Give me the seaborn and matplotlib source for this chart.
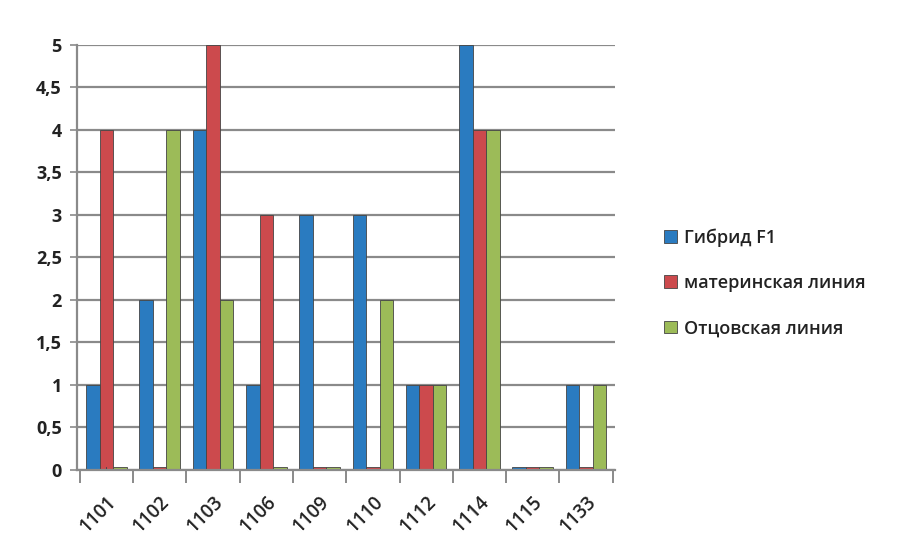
import matplotlib
matplotlib.use("Agg")
import matplotlib.pyplot as plt
import seaborn as sns
import pandas as pd
import numpy as np

categories = ["1101", "1102", "1103", "1106", "1109", "1110", "1112", "1114", "1115", "1133"]
hybrid = [1, 2, 4, 1, 3, 3, 1, 5, 0, 1]
maternal = [4, 0, 5, 3, 0, 0, 1, 4, 0, 0]
paternal = [0, 4, 2, 0, 0, 2, 1, 4, 0, 1]
series_names = ["Гибрид F1", "материнская линия", "Отцовская линия"]
yticks = [0, 0.5, 1, 1.5, 2, 2.5, 3, 3.5, 4, 4.5, 5]
ytick_labels = ["0", "0,5", "1", "1,5", "2", "2,5", "3", "3,5", "4", "4,5", "5"]
colors = ["#2A7BC0", "#CC4A4D", "#9CBB58"]

rows = []
for name, vals in zip(series_names, [hybrid, maternal, paternal]):
    for c, v in zip(categories, vals):
        rows.append({"cat": c, "series": name, "value": v})
df = pd.DataFrame(rows)

sns.set_style("white")
plt.rcParams['font.family'] = ['Open Sans', 'DejaVu Sans']

fig = plt.figure(figsize=(8.97, 5.54), dpi=100)
ax = fig.add_axes([0.086, 0.152, 0.600, 0.767])

ax.yaxis.grid(True, color="#8a8a8a", linewidth=1.6)
ax.set_axisbelow(True)

sns.barplot(data=df, x="cat", y="value", hue="series", palette=colors,
            hue_order=series_names, order=categories, ax=ax,
            width=0.76, saturation=1, edgecolor="#444444", linewidth=0.6,
            legend=True)

# small stubs for zero-valued bars (like the 3D floor slabs)
for patch in ax.patches:
    if patch.get_height() == 0:
        patch.set_height(0.03)

ax.set_ylim(0, 5)
ax.set_xlim(-0.55, 9.55)
ax.set_yticks(yticks)
ax.set_yticklabels(ytick_labels, fontsize=13, fontweight="bold", color="#222222")
ax.set_xticks(range(len(categories)))
ax.set_xticklabels(categories, rotation=45, ha="right", rotation_mode="anchor",
                   fontsize=13.5, fontweight="semibold", color="#222222")
ax.set_xticks(np.arange(-0.5, len(categories), 1.0), minor=True)
ax.set_xlabel("")
ax.set_ylabel("")
for s in ["top", "right"]:
    ax.spines[s].set_visible(False)
ax.spines["left"].set_color("#8a8a8a")
ax.spines["left"].set_linewidth(1.6)
ax.spines["bottom"].set_color("#8a8a8a")
ax.spines["bottom"].set_linewidth(1.6)
ax.tick_params(axis="y", length=5, width=1.2, color="#8a8a8a", pad=6, left=True)
ax.tick_params(axis="x", which="major", length=0, pad=16, bottom=True)
ax.tick_params(axis="x", which="minor", length=9, width=1.4, color="#8a8a8a", bottom=True)

leg = ax.legend(loc="center left", bbox_to_anchor=(1.06, 0.44), frameon=False,
                fontsize=13, handlelength=0.7, handleheight=0.7,
                labelspacing=1.5, handletextpad=0.4)
for t in leg.get_texts():
    t.set_fontweight("semibold")
    t.set_color("#222222")

fig.savefig("out.png", dpi=100, facecolor="white")
